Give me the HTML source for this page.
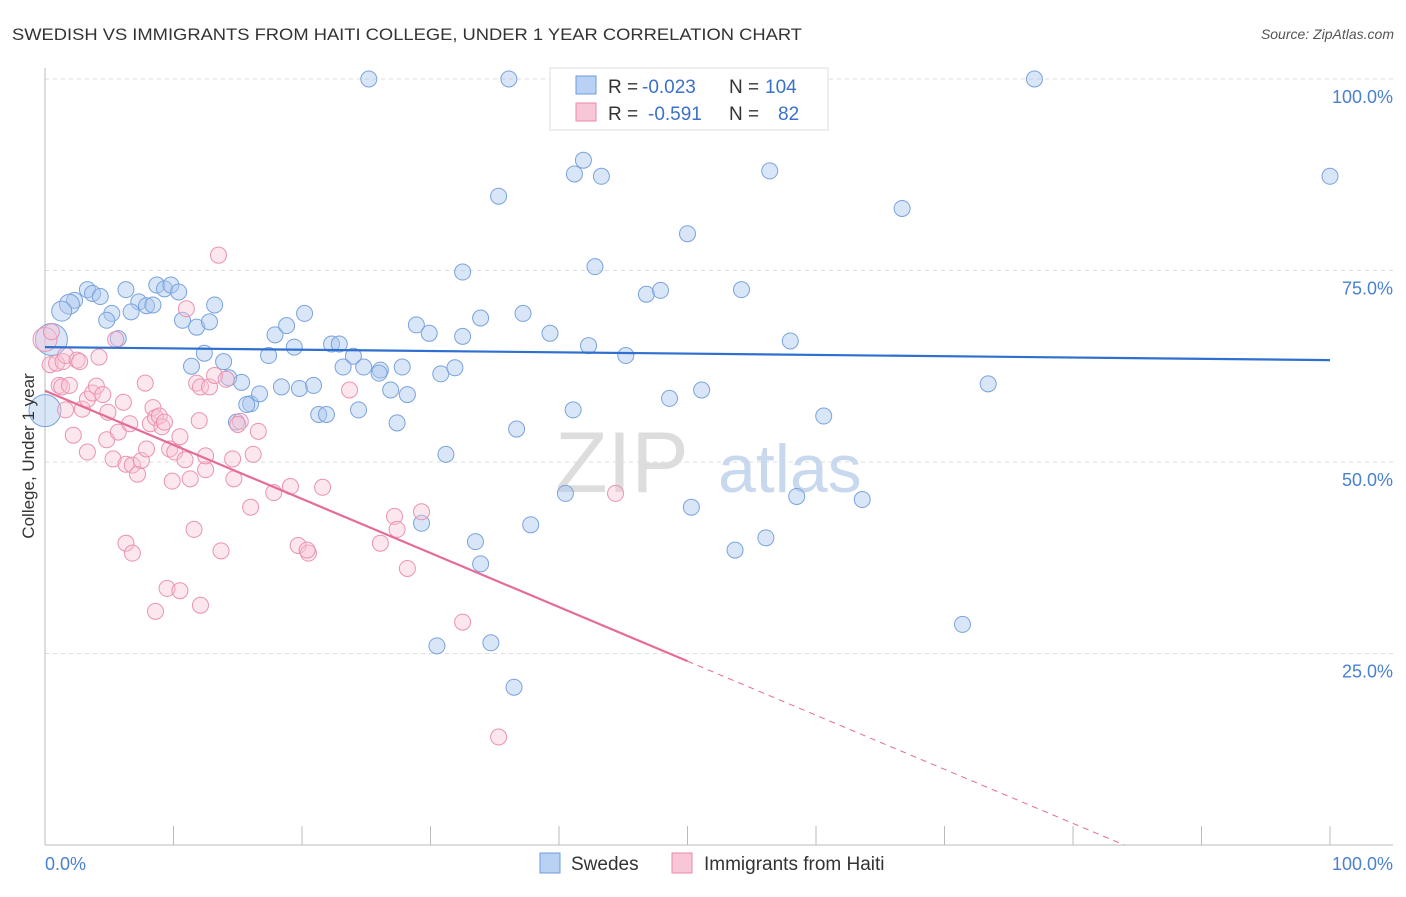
<!DOCTYPE html>
<html><head><meta charset="utf-8"><style>
body{margin:0;background:#fff;font-family:"Liberation Sans",sans-serif;}
svg text{font-family:"Liberation Sans",sans-serif;}
</style></head><body>
<svg id="c" width="1406" height="892">
<text x="12" y="40" font-size="17" fill="#333" textLength="790" lengthAdjust="spacingAndGlyphs">SWEDISH VS IMMIGRANTS FROM HAITI COLLEGE, UNDER 1 YEAR CORRELATION CHART</text>
<text x="1394" y="39" font-size="14" fill="#555" text-anchor="end" font-style="italic">Source: ZipAtlas.com</text>
<g id="grid"></g>
<g><text x="555" y="492" font-size="86" fill="#ddd" font-family="Liberation Serif">ZIP</text><text x="718" y="492" font-size="68" fill="#c8d8ee">atlas</text></g>
<g id="pts"></g>
<g id="lines"></g>
<text transform="translate(34,456) rotate(-90)" font-size="17" fill="#333" text-anchor="middle">College, Under 1 year</text>
<g>
<rect x="550" y="68" width="278" height="62" fill="#fff" stroke="#ddd"/>
<rect x="576" y="76" width="20" height="18" fill="#b9d1f2" stroke="#6f9bd8"/>
<rect x="576" y="103" width="20" height="18" fill="#f8c6d6" stroke="#e88aaa"/>
<text x="608" y="93" font-size="19" fill="#333">R =</text>
<text x="642" y="93" font-size="19" fill="#3b72c8">-0.023</text>
<text x="729" y="93" font-size="19" fill="#333">N =</text>
<text x="765" y="93" font-size="19" fill="#3b72c8">104</text>
<text x="608" y="120" font-size="19" fill="#333">R =</text>
<text x="648" y="120" font-size="19" fill="#3b72c8">-0.591</text>
<text x="729" y="120" font-size="19" fill="#333">N =</text>
<text x="778" y="120" font-size="19" fill="#3b72c8">82</text>
</g>
<g>
<rect x="540" y="853" width="20" height="20" fill="#b9d1f2" stroke="#6f9bd8"/>
<text x="571" y="870" font-size="19" fill="#333">Swedes</text>
<rect x="672" y="853" width="20" height="20" fill="#f8c6d6" stroke="#e88aaa"/>
<text x="704" y="870" font-size="19" fill="#333">Immigrants from Haiti</text>
</g>
<text x="45" y="870" font-size="18" fill="#4a80d0">0.0%</text>
<text x="1393" y="870" font-size="18" fill="#4a80d0" text-anchor="end">100.0%</text>
</svg>
<script>
const yTicks=[100,75,50,25];
const yTickLabels=["100.0%","75.0%","50.0%","25.0%"];
const blueX=[25.2,36.1,77.0,46.8,47.9,56.4,41.2,43.3,35.3,41.9,100,66.7,50.0,32.5,42.8,54.2,3.3,3.7,4.3,2.3,1.9,1.3,0.5,0,6.3,7.3,7.9,8.4,8.7,9.3,9.8,10.4,10.7,11.8,12.8,13.2,5.2,4.8,5.7,6.7,17.9,18.8,19.4,20.2,22.3,22.9,24.0,26.1,26.0,27.8,28.9,29.9,32.5,33.9,37.2,39.3,42.3,45.2,58.0,12.4,11.4,13.9,14.3,15.3,17.4,18.4,19.8,20.9,21.3,21.9,24.4,26.9,28.2,23.2,24.8,30.8,31.9,27.4,14.9,16.0,15.7,16.7,36.7,41.1,48.6,51.1,60.6,73.4,31.2,58.5,40.5,50.3,63.6,29.3,37.8,33.5,53.7,56.1,33.9,71.4,30.5,34.7,36.5,46.8];
const blueY=[100,100,100,71.9,72.4,88.0,87.6,87.3,84.7,89.4,87.3,83.1,79.8,74.8,75.5,72.5,72.5,72.0,71.6,71.1,70.6,69.7,66.0,56.7,72.5,70.9,70.4,70.5,73.1,72.6,73.1,72.2,68.5,67.6,68.3,70.5,69.4,68.5,66.1,69.6,66.6,67.8,65.0,69.4,65.4,65.4,63.8,62.0,61.6,62.4,67.9,66.8,66.4,68.8,69.4,66.8,65.2,63.9,65.8,64.2,62.5,63.1,61.0,60.4,63.9,59.8,59.6,60.0,56.2,56.2,56.8,59.4,58.8,62.4,62.4,61.5,62.3,55.1,55.2,57.6,57.5,58.9,54.3,56.8,58.3,59.4,56.0,60.2,51.0,45.5,45.9,44.1,45.1,42.0,41.8,39.6,38.5,40.1,36.7,28.8,26.0,26.4,20.6,100];
const pinkX=[0,0.4,0.5,0.9,1.4,1.6,1.1,1.3,1.6,1.9,2.2,2.5,2.7,2.9,3.3,3.3,3.7,4.0,4.2,4.5,4.8,4.9,5.3,5.5,5.7,6.1,6.3,6.6,6.8,7.2,7.5,7.8,7.9,8.2,8.4,8.6,8.9,9.1,9.3,9.7,9.9,10.1,10.5,10.9,11.3,11.6,11.8,12.0,12.1,12.5,12.5,12.8,13.2,13.5,13.7,14.1,14.6,14.7,15.2,16.0,16.2,16.6,6.3,6.8,9.5,10.5,8.6,12.1,11.0,15.0,17.8,19.1,19.7,20.5,20.4,21.6,23.7,26.1,27.2,27.4,28.2,29.3,32.5,35.3,44.4];
const pinkY=[66.0,62.7,67.0,62.9,63.1,63.9,60.0,59.8,56.8,60.0,53.5,63.3,63.1,56.9,51.3,58.2,59.0,59.9,63.7,58.8,52.9,56.5,50.4,66.0,53.9,57.8,49.7,55.0,49.6,48.4,50.2,60.3,51.7,55.0,57.1,55.8,56.0,54.6,55.2,51.7,47.5,51.3,53.3,50.3,47.8,41.2,60.3,55.4,59.8,49.0,50.8,59.8,61.3,77.0,38.4,60.8,50.4,47.8,55.3,44.1,51.0,54.0,39.4,38.1,33.5,33.2,30.5,31.3,70.0,54.9,46.0,46.8,39.1,38.1,38.5,46.7,59.4,39.4,42.9,41.2,36.1,43.5,29.1,14.1,45.9];
const blueLine=[65.0,63.3];
const pinkLine=[59.3,24.0];
const X=v=>45+v*12.85, Y=v=>845-v*7.66;
const NS="http://www.w3.org/2000/svg";
function mk(t,a,p){const e=document.createElementNS(NS,t);for(const k in a)e.setAttribute(k,a[k]);p.appendChild(e);return e;}
const grid=document.getElementById('grid');
yTicks.forEach((t,i)=>{
 const l=mk('line',{x1:45,x2:1393,y1:Y(t),y2:Y(t),stroke:'#ddd','stroke-dasharray':'4,4'},grid);
 
 
 const tx=mk('text',{x:1393,y:Y(t)+24,'font-size':18,fill:'#4a80d0','text-anchor':'end'},grid);
 tx.textContent=yTickLabels[i];
 
 
});
const ax=mk('line',{x1:45,x2:45,y1:68,y2:845,stroke:'#bbb'},grid);


const bx=mk('line',{x1:45,x2:1393,y1:845,y2:845,stroke:'#bbb'},grid);


for(let i=0;i<=10;i++){const t=mk('line',{x1:X(i*10),x2:X(i*10),y1:826,y2:845,stroke:'#bbb'},grid);
 
 }
const pts=document.getElementById('pts');
blueX.forEach((x,i)=>{const big=(x<=0.5&&(blueY[i]<60||blueY[i]===66.0));
 const c=mk('circle',{cx:X(x),cy:Y(blueY[i]),r:big?16:(x<2?10:8),fill:'rgba(170,200,240,0.45)',stroke:'#7aa3dc','stroke-width':1},pts);
 
 });
pinkX.forEach((x,i)=>{
 const c=mk('circle',{cx:X(x),cy:Y(pinkY[i]),r:x===0?12:8,fill:'rgba(248,195,212,0.4)',stroke:'#ea93b0','stroke-width':1},pts);
 
 });
const lines=document.getElementById('lines');
const bl=mk('line',{x1:X(0),y1:Y(blueLine[0]),x2:X(100),y2:Y(blueLine[1]),stroke:'#2f6fd0','stroke-width':2.2},lines);


const slope=(pinkLine[1]-pinkLine[0])/50, x0=-pinkLine[0]/slope;
const pl=mk('line',{x1:X(0),y1:Y(pinkLine[0]),x2:X(50),y2:Y(pinkLine[1]),stroke:'#e56b98','stroke-width':2.2},lines);


const pd=mk('line',{x1:X(50),y1:Y(pinkLine[1]),x2:X(x0),y2:Y(0),stroke:'#e56b98','stroke-width':1,'stroke-dasharray':'6,5'},lines);


</script>
</body></html>
